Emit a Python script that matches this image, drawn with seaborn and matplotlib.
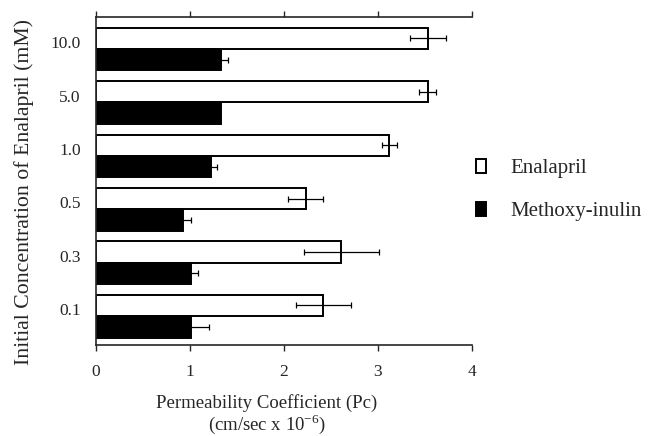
import pandas as pd
import matplotlib
matplotlib.use('Agg')
import matplotlib.pyplot as plt
import seaborn as sns

# values
concentrations = ['10.0', '5.0', '1.0', '0.5', '0.3', '0.1']
enalapril = [3.53, 3.53, 3.12, 2.23, 2.61, 2.42]
enalapril_err = [0.19, 0.09, 0.08, 0.19, 0.40, 0.29]
inulin = [1.33, 1.33, 1.22, 0.93, 1.01, 1.01]
inulin_err = [0.07, 0.0, 0.07, 0.08, 0.08, 0.19]
compounds = ['Enalapril', 'Methoxy-inulin']

sns.set_style('ticks')
plt.rcParams['font.family'] = ['Liberation Serif', 'DejaVu Serif']

df = pd.DataFrame({
    'conc': concentrations * 2,
    'compound': [compounds[0]] * len(concentrations) + [compounds[1]] * len(concentrations),
    'pc': enalapril + inulin,
})

fig = plt.figure(figsize=(6.49, 4.36), dpi=100)
ax = fig.add_axes([96 / 649, 91 / 436, 376 / 649, 328 / 436])

sns.barplot(data=df, y='conc', x='pc', hue='compound', order=concentrations,
            hue_order=compounds, palette=['white', 'black'], edgecolor='black',
            linewidth=1.4, errorbar=None, orient='h', ax=ax)

for container, errs in zip(ax.containers, [enalapril_err, inulin_err]):
    for bar, e in zip(container, errs):
        if e <= 0:
            continue
        yc = bar.get_y() + bar.get_height() / 2
        ax.errorbar(bar.get_width(), yc, xerr=e, fmt='none', ecolor='black',
                    elinewidth=0.9, capsize=2.5, capthick=0.9)

ax.set_xlim(0, 4)
ax.set_ylim(5.54, -0.6)
ax.set_xticks([0, 1, 2, 3, 4])
ax.set_xticklabels(['0', '1', '2', '3', '4'], fontsize=12.5)
# labels in the original sit a little above the white/black boundary
ax.set_yticks([i - 0.13 for i in range(len(concentrations))])
ax.set_yticklabels(concentrations)
ax.tick_params(axis='x', top=True, direction='out', length=4, width=1, pad=10)
ax.tick_params(axis='y', length=0, pad=11, labelsize=12.5)
ax.spines['right'].set_visible(False)
ax.spines['top'].set_visible(True)
for s in ['left', 'top', 'bottom']:
    ax.spines[s].set_linewidth(1.2)

ax.set_ylabel('Initial Concentration of Enalapril (mM)', fontsize=15.7)
ax.yaxis.set_label_coords(-0.165, 0.466)
ax.set_xlabel('Permeability Coefficient (Pc)\n(cm/sec x 10$^{\\mathregular{-6}}$)',
              fontsize=13.5, linespacing=1.0)
ax.xaxis.set_label_coords(0.455, -0.15)

handles, labels = ax.get_legend_handles_labels()
ax.legend(handles, labels, loc='upper left', bbox_to_anchor=(1.01, 0.566),
          frameon=False, fontsize=15, handlelength=0.5, handleheight=0.6,
          handletextpad=1.15, labelspacing=1.15, borderpad=0, borderaxespad=0)

fig.savefig('out.png', dpi=100)
